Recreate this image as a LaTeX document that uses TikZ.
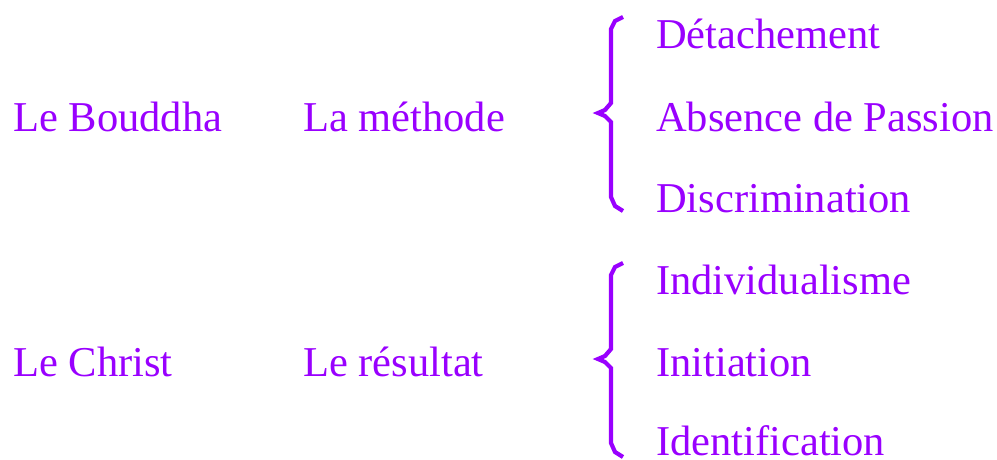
\documentclass[tikz,border=0pt]{standalone}
\usepackage{fontspec}
\setmainfont{Liberation Serif}
\definecolor{vio}{HTML}{9900FF}
\tikzset{
  lbl/.style={anchor=base west, inner sep=0pt, text=vio, font=\fontsize{42.5}{50}\selectfont},
  brc/.style={draw=vio, line width=4.2pt, line join=miter}
}
\begin{document}
\begin{tikzpicture}[x=1pt,y=-1pt]
\useasboundingbox (0,0) rectangle (997,459);
% left column
\node[lbl] (bouddha) at (13,131) {Le Bouddha};
\node[lbl] (christ) at (13,376) {Le Christ};
\node[lbl] (methode) at (303,131) {La méthode};
\node[lbl] (resultat) at (303,376) {Le résultat};
% right column
\node[lbl] (det) at (656,48) {Détachement};
\node[lbl] (abs) at (656,131) {Absence de Passion};
\node[lbl] (dis) at (656,212) {Discrimination};
\node[lbl] (ind) at (656,294) {Individualisme};
\node[lbl] (ini) at (656,376) {Initiation};
\node[lbl] (ide) at (656,455.5) {Identification};
% braces
\foreach \dy in {0,246} {
  \draw[brc] (623,{17+\dy}) -- (615,{21+\dy}) -- (611,{29+\dy}) -- (611,{103+\dy})
    -- (605,{110+\dy}) -- (598,{113+\dy}) -- (605,{116+\dy}) -- (611,{122+\dy})
    -- (611,{197+\dy}) -- (615,{206+\dy}) -- (623,{211+\dy});
}
\end{tikzpicture}
\end{document}
